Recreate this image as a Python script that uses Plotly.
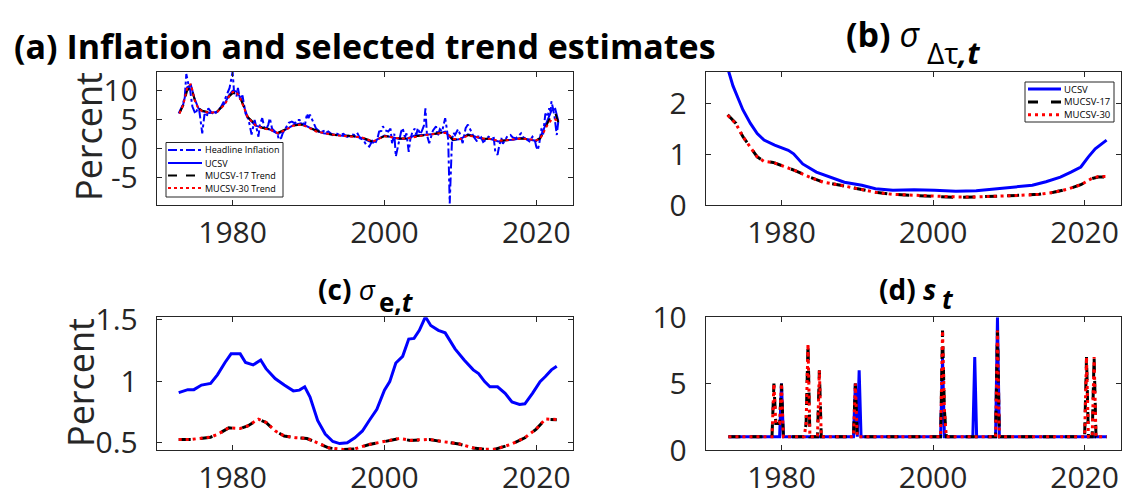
import plotly.graph_objects as go

# ------------------------------------------------------------------ data
# (a) headline inflation (annualised, percent)
infl_years = [1972.9, 1973.4, 1973.7, 1973.9, 1974.2, 1974.4, 1974.7, 1975.1, 1975.4, 1975.6,
              1976.0, 1976.3, 1976.6, 1976.8, 1977.2, 1977.6, 1978.0, 1978.5, 1978.9, 1979.3,
              1979.6, 1979.8, 1980.0, 1980.2, 1980.5, 1980.7, 1981.0, 1981.3, 1981.5, 1981.7,
              1982.0, 1982.2, 1982.5, 1982.9, 1983.1, 1983.4, 1983.6, 1983.9, 1984.2, 1984.4,
              1984.7, 1984.9, 1985.2, 1985.6, 1985.9, 1986.1, 1986.4, 1986.6, 1987.0, 1987.4,
              1987.8, 1988.2, 1988.5, 1988.8, 1989.2, 1989.5, 1989.8, 1990.0, 1990.2, 1990.5,
              1990.7, 1991.0, 1991.2, 1991.6, 1992.0, 1992.2, 1992.6, 1993.0, 1993.2, 1993.6,
              1994.1, 1994.6, 1995.1, 1995.6, 1996.1, 1996.4, 1996.8, 1997.2, 1997.6, 1998.0,
              1998.4, 1998.8, 1999.1, 1999.3, 1999.6, 1999.8, 2000.1, 2000.5, 2000.8, 2001.0,
              2001.3, 2001.5, 2001.8, 2002.0, 2002.2, 2002.4, 2002.7, 2002.9, 2003.2, 2003.4,
              2003.7, 2004.0, 2004.2, 2004.4, 2004.7, 2004.9, 2005.2, 2005.4, 2005.6, 2005.9,
              2006.1, 2006.4, 2006.8, 2007.0, 2007.3, 2007.6, 2007.8, 2008.0, 2008.2, 2008.4,
              2008.6, 2008.9, 2009.1, 2009.3, 2009.7, 2010.0, 2010.3, 2010.7, 2011.0, 2011.3,
              2011.5, 2011.8, 2012.2, 2012.4, 2012.7, 2013.0, 2013.4, 2013.7, 2014.1, 2014.4,
              2014.6, 2014.9, 2015.1, 2015.4, 2015.6, 2015.9, 2016.2, 2016.6, 2016.9, 2017.3,
              2017.6, 2018.0, 2018.3, 2018.8, 2019.1, 2019.5, 2019.8, 2020.0, 2020.2, 2020.4,
              2020.7, 2020.9, 2021.2, 2021.5, 2021.7, 2021.9, 2022.0, 2022.2, 2022.4, 2022.7,
              2022.9]
infl_vals = [6.1, 7.5, 9.0, 12.9, 11.0, 10.2, 7.3, 6.0, 7.0, 6.7,
             2.7, 6.0, 5.5, 7.0, 6.3, 5.9, 6.5, 7.3, 8.3, 9.6,
             10.5, 11.9, 13.3, 9.6, 9.0, 10.5, 8.4, 9.2, 7.9, 6.1,
             5.3, 4.4, 2.5, 5.0, 3.9, 2.1, 4.2, 5.3, 3.6, 3.3,
             4.2, 5.3, 3.5, 3.0, 2.6, 1.6, 1.9, 2.7, 3.6, 4.5,
             4.7, 4.4, 5.0, 5.0, 4.6, 3.9, 6.1, 5.3, 5.9, 5.0,
             4.4, 3.5, 3.3, 2.9, 3.1, 2.7, 3.0, 2.6, 2.4, 2.7,
             2.4, 2.6, 2.1, 2.5, 2.4, 2.8, 1.8, 1.6, 0.7, 0.4,
             1.4, 1.0, 1.9, 3.0, 3.1, 3.9, 3.2, 3.0, 3.5, 1.0,
             2.6, -1.3, 0.8, 2.1, 3.0, 3.6, 2.0, 2.7, -0.5, 1.6,
             3.0, 3.5, 2.4, 3.6, 2.5, 3.0, 4.0, 7.0, 2.4, 1.0,
             2.1, 3.2, 3.9, 2.2, 3.4, 3.0, 4.2, 5.3, 3.6, 1.6,
             -9.4, 1.6, 2.8, 2.4, 3.4, 2.4, 1.0, 3.6, 4.2, 3.3,
             3.0, 2.0, 1.3, 2.4, 2.1, 1.2, 1.6, 2.1, 1.8, 1.9,
             -0.5, -1.0, 0.4, 1.9, 0.9, 1.6, 2.2, 2.4, 2.0, 1.8,
             2.2, 2.7, 2.0, 1.6, 1.3, 2.1, 1.6, 0.4, -0.2, 1.0,
             3.6, 2.5, 6.1, 5.5, 7.0, 6.5, 8.2, 7.0, 5.6, 2.4,
             4.7]

# (a) trend estimates
trend_years = [1973.0, 1973.5, 1974.0, 1974.5, 1975.0, 1975.5, 1976.0, 1976.5, 1977.0, 1978.0,
               1979.0, 1979.5, 1980.0, 1980.5, 1981.0, 1981.5, 1982.0, 1983.0, 1984.0, 1985.0,
               1986.0, 1987.0, 1988.0, 1989.0, 1990.0, 1991.0, 1992.0, 1993.0, 1994.0, 1995.0,
               1996.0, 1997.0, 1998.0, 1998.5, 1999.0, 2000.0, 2001.0, 2002.0, 2003.0, 2004.0,
               2005.0, 2006.0, 2007.0, 2008.0, 2008.5, 2009.0, 2010.0, 2011.0, 2012.0, 2013.0,
               2014.0, 2015.0, 2016.0, 2017.0, 2018.0, 2019.0, 2020.0, 2020.5, 2021.0, 2021.5,
               2022.0, 2022.5, 2022.9]
ucsv_trend = [6.2, 7.7, 10.6, 11.0, 8.6, 7.0, 6.5, 6.3, 6.2, 6.4,
              7.9, 9.2, 10.0, 9.9, 8.9, 7.3, 5.4, 4.0, 3.6, 3.3,
              2.6, 3.4, 4.1, 4.4, 3.8, 3.1, 2.7, 2.5, 2.3, 2.2,
              2.2, 1.9, 1.3, 1.1, 1.6, 2.3, 2.0, 1.7, 1.8, 2.3,
              2.4, 2.5, 2.6, 3.0, 2.2, 1.5, 1.7, 2.5, 2.1, 1.7,
              1.7, 1.3, 1.5, 1.6, 1.9, 1.7, 1.4, 1.9, 3.3, 5.0,
              6.6, 6.9, 4.8]
mucsv17_trend = [6.2, 7.5, 10.0, 10.8, 8.5, 7.0, 6.6, 6.4, 6.3, 6.5,
                 7.8, 9.0, 9.6, 9.7, 8.8, 7.2, 5.5, 4.2, 3.6, 3.4,
                 2.8, 3.4, 4.0, 4.2, 3.7, 3.1, 2.7, 2.5, 2.3, 2.3,
                 2.2, 2.0, 1.5, 1.2, 1.6, 2.2, 2.1, 1.8, 1.8, 2.2,
                 2.3, 2.5, 2.6, 2.9, 2.4, 1.6, 1.7, 2.4, 2.1, 1.8,
                 1.7, 1.4, 1.5, 1.6, 1.8, 1.7, 1.5, 1.8, 3.0, 4.5,
                 5.8, 6.2, 4.6]
mucsv30_trend = [6.1, 7.6, 10.4, 11.2, 8.4, 6.9, 6.5, 6.3, 6.2, 6.4,
                 7.7, 9.0, 9.8, 9.8, 8.7, 7.1, 5.4, 4.1, 3.5, 3.3,
                 2.7, 3.3, 4.0, 4.2, 3.7, 3.0, 2.7, 2.5, 2.3, 2.2,
                 2.2, 2.0, 1.5, 1.3, 1.6, 2.2, 2.0, 1.8, 1.8, 2.1,
                 2.3, 2.5, 2.6, 2.8, 2.4, 1.7, 1.7, 2.3, 2.1, 1.8,
                 1.7, 1.4, 1.5, 1.6, 1.8, 1.7, 1.5, 1.7, 2.9, 4.2,
                 5.0, 5.1, 4.6]

# (b) sigma_{delta tau, t}
sdtau_ucsv_years = [1972.9, 1973.6, 1974.9, 1975.9, 1976.8, 1977.7, 1979.1, 1980.9, 1981.6, 1982.8,
                    1984.6, 1986.4, 1988.3, 1990.6, 1992.4, 1994.7, 1997.5, 2000.2, 2003.0, 2005.7,
                    2008.5, 2011.3, 2013.1, 2014.9, 2016.8, 2018.2, 2019.5, 2020.5, 2021.4, 2022.9]
sdtau_ucsv = [2.70, 2.35, 1.88, 1.61, 1.41, 1.28, 1.18, 1.08, 1.01, 0.81,
              0.65, 0.55, 0.45, 0.39, 0.32, 0.29, 0.30, 0.29, 0.27, 0.28,
              0.32, 0.35, 0.39, 0.46, 0.55, 0.65, 0.75, 0.95, 1.11, 1.28]
sdtau_m_years = [1972.9, 1974.0, 1974.9, 1975.9, 1976.8, 1977.7, 1978.9, 1980.0, 1981.8, 1983.7,
                 1985.5, 1987.8, 1990.1, 1992.4, 1994.7, 1997.5, 2000.2, 2003.0, 2005.7, 2008.5,
                 2011.3, 2014.0, 2015.9, 2017.7, 2019.5, 2020.9, 2021.8, 2022.9]
sdtau_mucsv17 = [1.78, 1.61, 1.35, 1.15, 0.95, 0.86, 0.84, 0.78, 0.68, 0.55,
                 0.45, 0.39, 0.32, 0.25, 0.21, 0.19, 0.17, 0.15, 0.16, 0.17,
                 0.19, 0.21, 0.25, 0.31, 0.40, 0.52, 0.55, 0.55]
sdtau_mucsv30 = [1.77, 1.60, 1.35, 1.14, 0.95, 0.86, 0.84, 0.78, 0.68, 0.55,
                 0.45, 0.39, 0.32, 0.25, 0.21, 0.19, 0.17, 0.16, 0.16, 0.17,
                 0.19, 0.21, 0.25, 0.31, 0.40, 0.52, 0.56, 0.56]

# (c) sigma_{e, t}
sde_ucsv_years = [1972.9, 1974.1, 1974.9, 1975.9, 1977.1, 1978.0, 1979.0, 1979.8, 1981.0, 1981.7,
                  1982.7, 1983.7, 1984.4, 1985.6, 1986.8, 1988.0, 1988.8, 1989.5, 1990.2, 1991.2,
                  1992.2, 1993.2, 1994.1, 1995.1, 1996.1, 1997.1, 1998.0, 1999.0, 2000.0, 2000.7,
                  2001.5, 2002.4, 2003.2, 2003.9, 2004.6, 2005.4, 2006.1, 2007.1, 2008.0, 2008.5,
                  2009.3, 2010.5, 2011.7, 2012.4, 2013.2, 2013.9, 2014.9, 2015.9, 2016.8, 2017.8,
                  2018.5, 2019.5, 2020.5, 2021.2, 2022.0, 2022.7]
sde_ucsv = [0.906, 0.930, 0.930, 0.967, 0.980, 1.050, 1.150, 1.220, 1.220, 1.150,
            1.130, 1.170, 1.100, 1.020, 0.967, 0.920, 0.926, 0.953, 0.870, 0.680,
            0.570, 0.510, 0.493, 0.500, 0.540, 0.595, 0.680, 0.770, 0.926, 0.995,
            1.146, 1.200, 1.340, 1.345, 1.410, 1.520, 1.450, 1.410, 1.390, 1.340,
            1.260, 1.170, 1.090, 1.060, 0.995, 0.953, 0.953, 0.900, 0.830, 0.810,
            0.815, 0.900, 0.995, 1.036, 1.090, 1.120]
sde_m_years = [1972.9, 1974.6, 1977.1, 1978.0, 1979.5, 1981.0, 1982.0, 1983.4, 1984.4, 1985.6,
               1986.8, 1988.3, 1989.8, 1991.2, 1992.7, 1994.6, 1996.1, 1998.0, 2000.0, 2002.0,
               2003.4, 2005.9, 2007.8, 2009.8, 2011.7, 2013.2, 2014.6, 2016.6, 2018.5, 2020.0,
               2021.2, 2022.7]
sde_mucsv17 = [0.526, 0.526, 0.545, 0.567, 0.620, 0.614, 0.636, 0.690, 0.664, 0.595,
               0.554, 0.540, 0.534, 0.500, 0.457, 0.445, 0.450, 0.485, 0.510, 0.534,
               0.518, 0.526, 0.507, 0.490, 0.457, 0.446, 0.448, 0.485, 0.540, 0.610,
               0.690, 0.686]
sde_mucsv30 = [0.526, 0.527, 0.546, 0.567, 0.621, 0.615, 0.637, 0.691, 0.665, 0.596,
               0.555, 0.541, 0.535, 0.500, 0.458, 0.445, 0.450, 0.486, 0.511, 0.535,
               0.519, 0.527, 0.508, 0.491, 0.458, 0.446, 0.448, 0.486, 0.541, 0.611,
               0.692, 0.688]

# (d) outlier scale s_t
st_ucsv_years = [1973.0, 1979.75, 1980.0, 1980.25, 1989.5, 1989.75, 1990.0, 1990.25, 1990.5, 2001.0,
                 2001.25, 2001.5, 2005.25, 2005.5, 2005.75, 2008.25, 2008.5, 2008.75, 2022.9]
st_ucsv = [1, 1, 5, 1, 1, 5, 1, 6, 1, 1,
           7, 1, 1, 7, 1, 1, 10, 1, 1]
st_m_years = [1973.0, 1978.75, 1979.0, 1979.25, 1979.5, 1979.75, 1980.0, 1980.25, 1983.0, 1983.25,
              1983.5, 1983.75, 1984.75, 1985.0, 1985.25, 1989.5, 1989.75, 1990.0, 2001.0, 2001.25,
              2001.5, 2001.75, 2008.25, 2008.5, 2008.75, 2020.0, 2020.25, 2020.5, 2021.0, 2021.25,
              2021.5, 2022.9]
st_mucsv17 = [1, 1, 5, 2, 2, 2, 5, 1, 1, 2,
              8, 1, 1, 6, 1, 1, 5, 1, 1, 9,
              3, 1, 1, 9, 1, 1, 7, 1, 1, 7,
              1, 1]
st_mucsv30 = [1, 1, 5, 2, 2, 2, 5, 1, 1, 2,
              8, 1, 1, 6, 1, 1, 5, 1, 1, 9,
              3, 1, 1, 9, 1, 1, 7, 1, 1, 7,
              1, 1]

# tick labels / ranges
x_ticks = [1980, 2000, 2020]
x_range = [1970, 2024.8]
ya_ticks = [-5, 0, 5, 10]
ya_range = [-9.65, 13.3]
yb_ticks = [0, 1, 2]
yb_range = [0, 2.63]
yc_ticks = [0.5, 1, 1.5]
yc_range = [0.441, 1.516]
yd_ticks = [0, 5, 10]
yd_range = [0, 10]

legend_a_labels = ["Headline Inflation", "UCSV", "MUCSV-17 Trend", "MUCSV-30 Trend"]
legend_b_labels = ["UCSV", "MUCSV-17", "MUCSV-30"]

# ------------------------------------------------------------------ figure
W, H = 1125, 491
FONT = "Open Sans"
AX_COL = "#262626"
BLUE, BLACK, RED = "#0000FF", "#000000", "#FF0000"

fig = go.Figure()

def px_x(p):
    return p / W

def px_y(p):
    return 1 - p / H

# panel (a)
fig.add_trace(go.Scatter(x=infl_years, y=infl_vals, mode="lines", name=legend_a_labels[0],
                         line=dict(color=BLUE, width=2, dash="dashdot"), xaxis="x", yaxis="y"))
fig.add_trace(go.Scatter(x=trend_years, y=ucsv_trend, mode="lines", name=legend_a_labels[1],
                         line=dict(color=BLUE, width=2), xaxis="x", yaxis="y"))
fig.add_trace(go.Scatter(x=trend_years, y=mucsv17_trend, mode="lines", name=legend_a_labels[2],
                         line=dict(color=BLACK, width=2, dash="dash"), xaxis="x", yaxis="y"))
fig.add_trace(go.Scatter(x=trend_years, y=mucsv30_trend, mode="lines", name=legend_a_labels[3],
                         line=dict(color=RED, width=2, dash="dot"), xaxis="x", yaxis="y"))

# panel (b)
fig.add_trace(go.Scatter(x=sdtau_ucsv_years, y=sdtau_ucsv, mode="lines", name=legend_b_labels[0],
                         line=dict(color=BLUE, width=3), xaxis="x2", yaxis="y2"))
fig.add_trace(go.Scatter(x=sdtau_m_years, y=sdtau_mucsv17, mode="lines", name=legend_b_labels[1],
                         line=dict(color=BLACK, width=3, dash="12px,10px"), xaxis="x2", yaxis="y2"))
fig.add_trace(go.Scatter(x=sdtau_m_years, y=sdtau_mucsv30, mode="lines", name=legend_b_labels[2],
                         line=dict(color=RED, width=3, dash="3px,4px"), xaxis="x2", yaxis="y2"))

# panel (c)
fig.add_trace(go.Scatter(x=sde_ucsv_years, y=sde_ucsv, mode="lines", name="UCSV",
                         line=dict(color=BLUE, width=3), xaxis="x3", yaxis="y3"))
fig.add_trace(go.Scatter(x=sde_m_years, y=sde_mucsv17, mode="lines", name="MUCSV-17",
                         line=dict(color=BLACK, width=3, dash="12px,10px"), xaxis="x3", yaxis="y3"))
fig.add_trace(go.Scatter(x=sde_m_years, y=sde_mucsv30, mode="lines", name="MUCSV-30",
                         line=dict(color=RED, width=3, dash="3px,4px"), xaxis="x3", yaxis="y3"))

# panel (d)
fig.add_trace(go.Scatter(x=st_ucsv_years, y=st_ucsv, mode="lines", name="UCSV",
                         line=dict(color=BLUE, width=3), xaxis="x4", yaxis="y4"))
fig.add_trace(go.Scatter(x=st_m_years, y=st_mucsv17, mode="lines", name="MUCSV-17",
                         line=dict(color=BLACK, width=3, dash="12px,10px"), xaxis="x4", yaxis="y4"))
fig.add_trace(go.Scatter(x=st_m_years, y=st_mucsv30, mode="lines", name="MUCSV-30",
                         line=dict(color=RED, width=3, dash="3px,4px"), xaxis="x4", yaxis="y4"))

dom_xl = [px_x(156.7), px_x(572.7)]
dom_xr = [px_x(705.7), px_x(1121)]
dom_yt = [px_y(205), px_y(71.7)]
dom_yb = [px_y(450), px_y(317.3)]

tick_font = dict(family=FONT, size=30, color=AX_COL)

def xax(dom, anchor):
    return dict(domain=dom, anchor=anchor, range=x_range, tickvals=x_ticks,
                ticktext=[str(t) for t in x_ticks], ticks="inside", ticklen=5,
                tickcolor=AX_COL, showline=True, linecolor=AX_COL, linewidth=1,
                mirror="ticks", showgrid=False, zeroline=False, tickfont=tick_font,
                ticklabelstandoff=1, automargin=False)

def yax(dom, anchor, rng, tv):
    return dict(domain=dom, anchor=anchor, range=rng, tickvals=tv,
                ticktext=[("%g" % t) for t in tv], ticks="inside", ticklen=5,
                tickcolor=AX_COL, showline=True, linecolor=AX_COL, linewidth=1,
                mirror="ticks", showgrid=False, zeroline=False, tickfont=tick_font,
                ticklabelstandoff=12, automargin=False)

fig.update_layout(
    width=W, height=H, margin=dict(l=0, r=0, t=0, b=0, autoexpand=False),
    paper_bgcolor="white", plot_bgcolor="white", showlegend=False,
    font=dict(family=FONT, color=AX_COL),
    xaxis=xax(dom_xl, "y"), yaxis=yax(dom_yt, "x", ya_range, ya_ticks),
    xaxis2=xax(dom_xr, "y2"), yaxis2=yax(dom_yt, "x2", yb_range, yb_ticks),
    xaxis3=xax(dom_xl, "y3"), yaxis3=yax(dom_yb, "x3", yc_range, yc_ticks),
    xaxis4=xax(dom_xr, "y4"), yaxis4=yax(dom_yb, "x4", yd_range, yd_ticks),
)

# ------------------------------------------------------------------ titles
ann = []

def text_ann(text, x, y, size, xanchor="center", yanchor="middle", color="black", angle=0):
    ann.append(dict(text=text, x=px_x(x), y=px_y(y), xref="paper", yref="paper",
                    xanchor=xanchor, yanchor=yanchor, showarrow=False, textangle=angle,
                    font=dict(family=FONT, size=size, color=color)))

text_ann("<b>(a) Inflation and selected trend estimates</b>", 365, 46, 34)
# (b) sigma_{Delta tau, t}
text_ann("<b>(b)</b> <i>σ</i>", 922, 34, 34, xanchor="right")
text_ann("Δτ<b><i>,t</i></b>", 925, 52, 30, xanchor="left")
# (c) sigma_{e, t}
text_ann("<b>(c)</b> <i>σ</i>", 378, 289, 28, xanchor="right")
text_ann("<b>e,<i>t</i></b>", 377, 302, 26, xanchor="left")
# (d) s_t
text_ann("<b>(d) <i>s</i></b>", 938, 289, 28, xanchor="right")
text_ann("<b><i>t</i></b>", 940, 299, 26, xanchor="left")
# y-axis labels
text_ann("Percent", 88, 137, 36, color=AX_COL, angle=-90)
text_ann("Percent", 80, 383, 36, color=AX_COL, angle=-90)

# ------------------------------------------------------------------ legends (drawn boxes)
shapes = []

def draw_legend(box, rows_y, x0, x1, tx, labels, styles, fsize):
    shapes.append(dict(type="rect", xref="paper", yref="paper",
                       x0=px_x(box[0]), x1=px_x(box[1]), y0=px_y(box[3]), y1=px_y(box[2]),
                       line=dict(color=AX_COL, width=1), fillcolor="white", layer="above"))
    for yy, lab, st in zip(rows_y, labels, styles):
        shapes.append(dict(type="line", xref="paper", yref="paper",
                           x0=px_x(x0), x1=px_x(x1), y0=px_y(yy), y1=px_y(yy),
                           line=st, layer="above"))
        text_ann(lab, tx, yy, fsize, xanchor="left")

draw_legend((166, 283, 142.5, 197), [150, 163, 175.5, 188], 168, 202, 203,
            legend_a_labels,
            [dict(color=BLUE, width=2, dash="dashdot"), dict(color=BLUE, width=2),
             dict(color=BLACK, width=2, dash="dash"), dict(color=RED, width=2, dash="dot")],
            9)
draw_legend((1025, 1114, 82, 122), [89, 102, 114.7], 1028, 1061, 1062,
            legend_b_labels,
            [dict(color=BLUE, width=3), dict(color=BLACK, width=3, dash="10px,13px"),
             dict(color=RED, width=3, dash="3px,4px")],
            9.5)

fig.update_layout(annotations=ann, shapes=shapes)
fig.write_html("out.html")
